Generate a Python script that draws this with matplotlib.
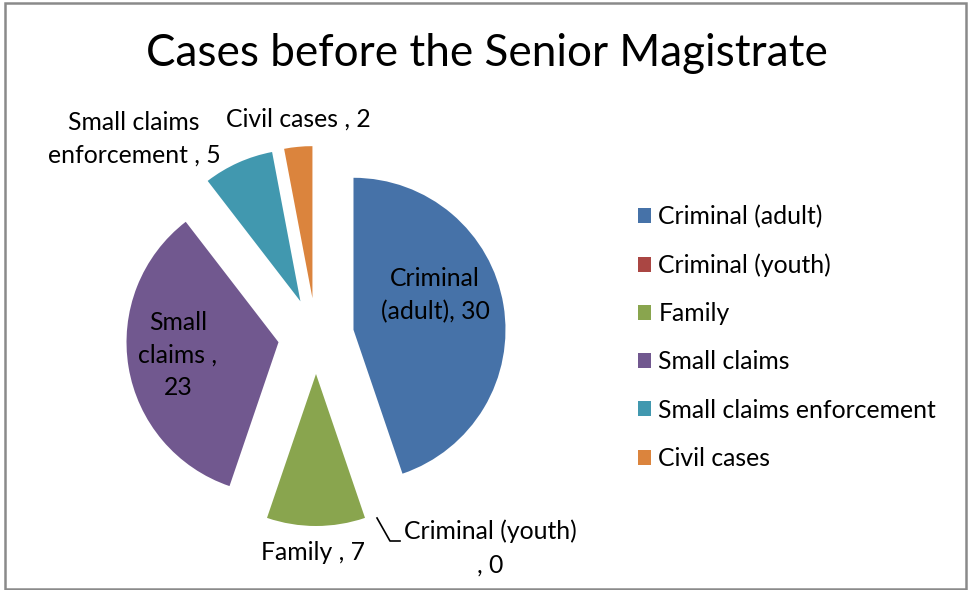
import matplotlib
matplotlib.use("Agg")
import matplotlib.pyplot as plt
from matplotlib.patches import Rectangle

categories = ["Criminal (adult)", "Criminal (youth)", "Family", "Small claims",
              "Small claims enforcement", "Civil cases"]
values = [30, 0, 7, 23, 5, 2]
colors = ["#4672A8", "#AA4643", "#89A54E", "#71588F", "#4198AF", "#DB843D"]
title = "Cases before the Senior Magistrate"

plt.rcParams["font.family"] = ["Lato", "DejaVu Sans"]

W, H = 970, 590
fig = plt.figure(figsize=(W / 100, H / 100), dpi=100)
fig.patch.set_facecolor("white")

R = 152.0          # pie radius in px
CX, CY = 316.0, 336.0  # pie centre in px (from top-left)

ax = fig.add_axes([0, 0, 1, 1])
ax.set_aspect("equal")
ax.axis("off")

wedges, _ = ax.pie(values, colors=colors, startangle=90, counterclock=False,
                   explode=[0.25] * len(values), radius=1.0, center=(0, 0),
                   wedgeprops=dict(linewidth=0))
ax.set_xlim(-CX / R, (W - CX) / R)
ax.set_ylim(-(H - CY) / R, CY / R)


def px(x, y):
    return ((x - CX) / R, (CY - y) / R)


fs = 17.8
lab_kw = dict(fontsize=fs, color="black", ha="center", va="center", linespacing=1.5)
ax.text(*px(435, 295), f"Criminal\n(adult), {values[0]}", **lab_kw)
ax.text(*px(178, 355), f"Small\nclaims ,\n{values[3]}", **lab_kw)
ax.text(*px(313, 552), f"Family , {values[2]}", **lab_kw)
ax.text(*px(134, 139), f"Small claims\nenforcement , {values[4]}", **lab_kw)
ax.text(*px(298, 119), f"Civil cases , {values[5]}", **lab_kw)
ax.text(*px(404, 531), "Criminal (youth)", fontsize=fs, ha="left", va="center")
ax.text(*px(490, 565), f", {values[1]}", fontsize=fs, ha="center", va="center")
lx, ly = zip(px(377, 518), px(390, 541), px(400, 541))
ax.plot(lx, ly, color="black", lw=1.2)

fig.text(487 / W, 1 - 53 / H, title, fontsize=31.7, ha="center", va="center")

leg = fig.legend(wedges, categories, loc="upper left",
                 bbox_to_anchor=(628 / W, 1 - 195 / H), frameon=False,
                 fontsize=fs, handlelength=0.55, handleheight=0.55,
                 handletextpad=0.28, labelspacing=1.02, borderaxespad=0)

fig.patches.append(Rectangle((5.5 / W, 1.5 / H), (966 - 5.5) / W, (587.5 - 1.5) / H,
                             transform=fig.transFigure, fill=False,
                             edgecolor="#8a8a8a", linewidth=1.8))

fig.savefig("out.png", dpi=100, facecolor="white")
